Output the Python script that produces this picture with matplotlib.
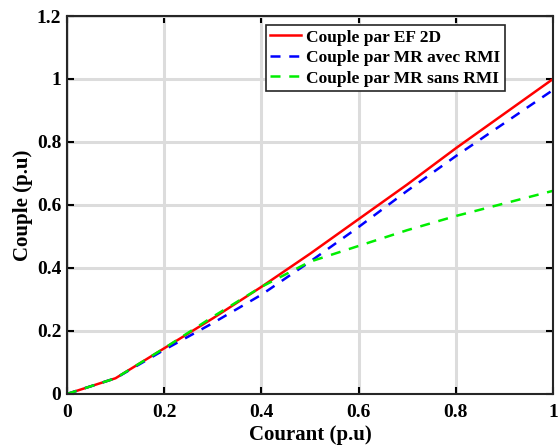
import matplotlib
matplotlib.use("Agg")
import matplotlib.pyplot as plt

courant = [0, 0.1, 0.2, 0.3, 0.4, 0.5, 0.6, 0.7, 0.8, 0.9, 1.0]
couple_ef2d = [0, 0.05, 0.145, 0.24, 0.34, 0.445, 0.555, 0.665, 0.78, 0.89, 1.0]
couple_mr_avec = [0, 0.05, 0.14, 0.225, 0.315, 0.42, 0.53, 0.645, 0.755, 0.86, 0.965]
couple_mr_sans = [0, 0.05, 0.145, 0.245, 0.34, 0.42, 0.47, 0.52, 0.565, 0.605, 0.645]

plt.rcParams['font.family'] = ['Liberation Serif', 'DejaVu Serif']
plt.rcParams['font.weight'] = 'bold'

fig = plt.figure(figsize=(5.58, 4.47), dpi=100)
ax = fig.add_axes([0.120, 0.1186, 0.871, 0.8456])

ax.plot(courant, couple_ef2d, color='#ff0000', lw=1.8, label='Couple par EF 2D')
ax.plot(courant, couple_mr_avec, color='#0000ff', lw=1.8, ls=(0, (4, 3.5)), label='Couple par MR avec RMI')
ax.plot(courant, couple_mr_sans, color='#00ee00', lw=1.8, ls=(0, (4, 3.5)), label='Couple par MR sans RMI')

ax.set_xlim(0, 1)
ax.set_ylim(0, 1.2)
ax.set_xticks([0, 0.2, 0.4, 0.6, 0.8, 1])
ax.set_xticklabels(['0', '0.2', '0.4', '0.6', '0.8', '1'])
ax.set_yticks([0, 0.2, 0.4, 0.6, 0.8, 1, 1.2])
ax.set_yticklabels(['0', '0.2', '0.4', '0.6', '0.8', '1', '1.2'])
ax.grid(True, color='#dcdcdc', lw=2.2)
ax.set_axisbelow(True)
ax.tick_params(direction='in', top=True, right=True, labelsize=14, width=1.5, length=5)
ax.tick_params(axis='y', pad=4)
ax.tick_params(axis='x', pad=7)
for s in ax.spines.values():
    s.set_linewidth(1.5)
    s.set_color('#262626')
for lab in ax.get_xticklabels() + ax.get_yticklabels():
    lab.set_fontweight('bold')

ax.set_xlabel('Courant (p.u)', fontsize=15, fontweight='bold', labelpad=3)
ax.set_ylabel('Couple (p.u)', fontsize=15, fontweight='bold', labelpad=3)

leg = ax.legend(loc='upper right', bbox_to_anchor=(0.901, 0.976),
                prop={'weight': 'bold', 'size': 12.5}, fancybox=False, edgecolor='#262626',
                framealpha=1, borderpad=0.25, labelspacing=0.25, handlelength=1.8, handletextpad=0.3,
                borderaxespad=0)
leg.get_frame().set_linewidth(1.2)

fig.savefig('out.png', dpi=100)
